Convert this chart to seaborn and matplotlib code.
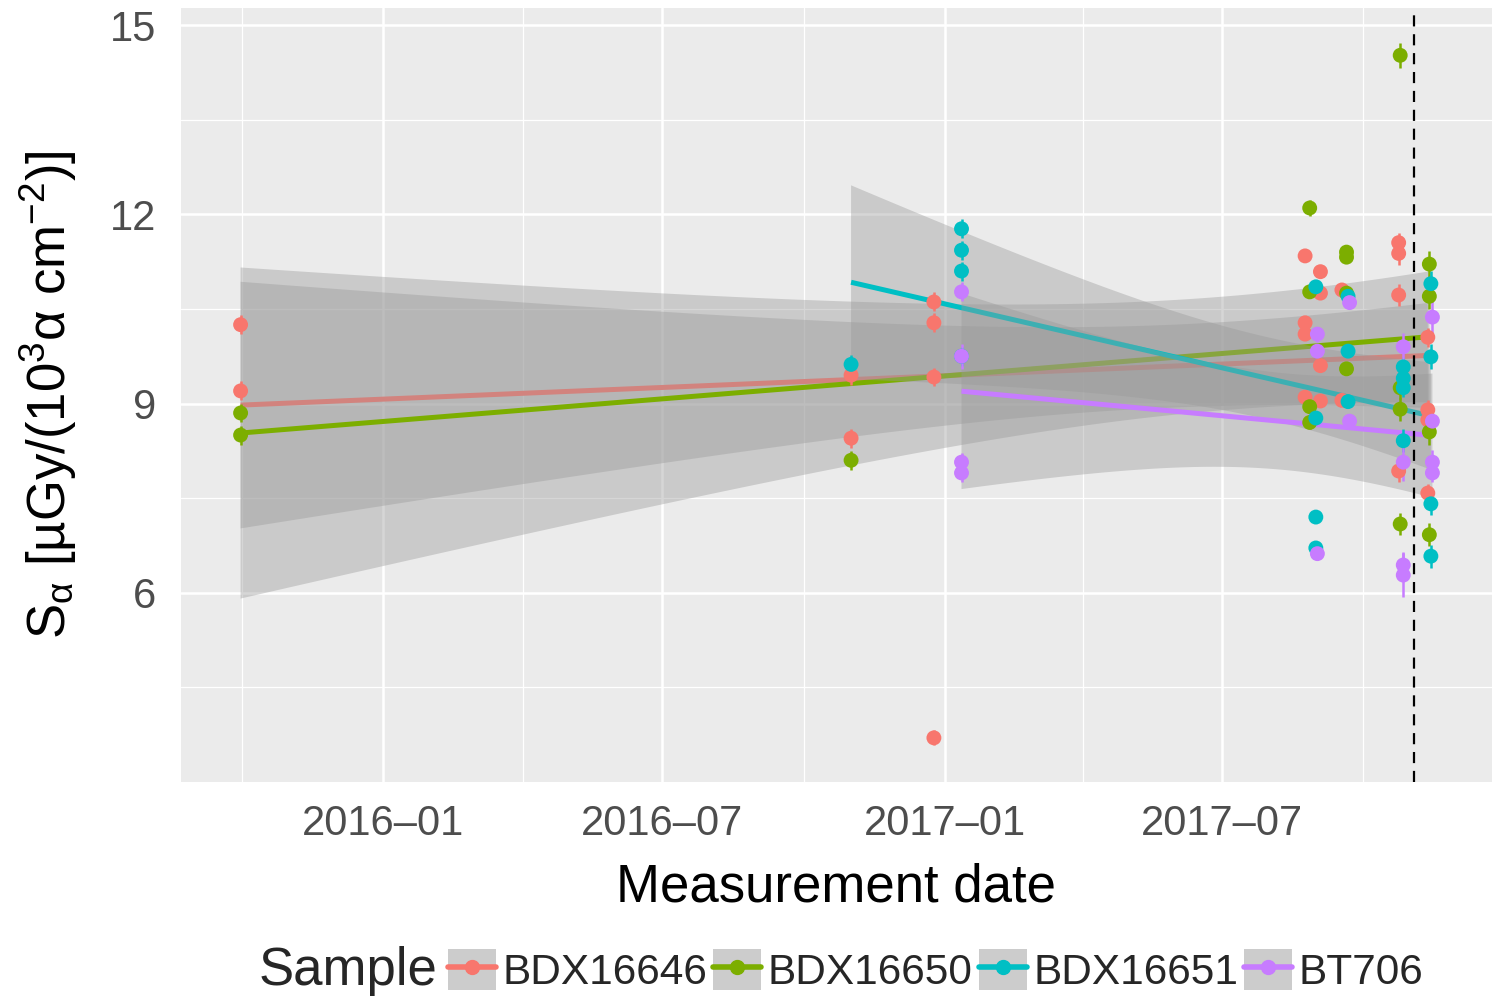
import numpy as np
import pandas as pd
import matplotlib
matplotlib.use("Agg")
import matplotlib.pyplot as plt
import matplotlib.dates as mdates
from matplotlib.lines import Line2D
from matplotlib.patches import Patch
from matplotlib.ticker import FixedLocator
import seaborn as sns

# ---------------- data ----------------
samples = ["BDX16646", "BDX16650", "BDX16651", "BT706"]
colors = ["#F8766D", "#7CAE00", "#00BFC4", "#C77CFF"]

bdx16646_dates = (["2015-09-30"] * 2 + ["2016-11-01"] * 2 + ["2016-12-25"] * 4 +
                  ["2017-08-24"] * 4 + ["2017-09-03"] * 4 + ["2017-09-17"] * 2 +
                  ["2017-10-24"] * 4 + ["2017-11-12"] * 4)
bdx16646_vals = [10.25, 9.20, 9.45, 8.45, 10.61, 10.28, 9.42, 3.70,
                 11.34, 10.28, 10.10, 9.10, 11.09, 10.75, 9.60, 9.04,
                 10.80, 9.05, 11.55, 11.38, 10.72, 7.93, 10.05, 8.90, 8.74, 7.58]
bdx16646_errs = [0.15, 0.15, 0.15, 0.15, 0.15, 0.15, 0.15, 0.12,
                 0.08, 0.08, 0.08, 0.08, 0.08, 0.08, 0.08, 0.08,
                 0.08, 0.08, 0.15, 0.18, 0.18, 0.18, 0.15, 0.15, 0.15, 0.15]

bdx16650_dates = (["2015-09-30"] * 2 + ["2016-11-01"] + ["2017-08-27"] * 4 +
                  ["2017-09-20"] * 4 + ["2017-10-25"] * 4 + ["2017-11-13"] * 4)
bdx16650_vals = [8.85, 8.50, 8.10, 12.10, 10.77, 8.95, 8.70,
                 11.40, 11.32, 10.75, 9.55, 14.52, 9.25, 8.91, 7.09,
                 11.21, 10.70, 8.55, 6.92]
bdx16650_errs = [0.15, 0.15, 0.15, 0.12, 0.10, 0.10, 0.10,
                 0.10, 0.10, 0.10, 0.10, 0.20, 0.18, 0.18, 0.18,
                 0.20, 0.20, 0.20, 0.18]

bdx16651_dates = (["2016-11-01"] + ["2017-01-12"] * 4 + ["2017-08-31"] * 4 +
                  ["2017-09-21"] * 3 + ["2017-10-27"] * 4 + ["2017-11-14"] * 4)
bdx16651_vals = [9.62, 11.77, 11.43, 11.10, 9.75, 10.85, 8.77, 7.20, 6.71,
                 10.70, 9.83, 9.03, 9.58, 9.40, 9.25, 8.41,
                 10.90, 9.74, 7.41, 6.58]
bdx16651_errs = [0.15, 0.15, 0.15, 0.15, 0.15, 0.08, 0.08, 0.08, 0.08,
                 0.08, 0.08, 0.08, 0.15, 0.15, 0.15, 0.18,
                 0.20, 0.20, 0.18, 0.18]

bt706_dates = (["2017-01-12"] * 4 + ["2017-09-01"] * 3 + ["2017-09-22"] * 2 +
               ["2017-10-27"] * 4 + ["2017-11-15"] * 4)
bt706_vals = [10.77, 9.75, 8.07, 7.90, 10.10, 9.83, 6.62, 10.60, 8.72,
              9.90, 8.07, 6.44, 6.28, 10.37, 8.72, 8.07, 7.90]
bt706_errs = [0.15, 0.20, 0.15, 0.15, 0.12, 0.10, 0.10, 0.08, 0.08,
              0.22, 0.30, 0.20, 0.35, 0.25, 0.15, 0.20, 0.15]

cutoff_date = "2017-11-03"

frames = []
for s, d, v, e in zip(samples,
                      [bdx16646_dates, bdx16650_dates, bdx16651_dates, bt706_dates],
                      [bdx16646_vals, bdx16650_vals, bdx16651_vals, bt706_vals],
                      [bdx16646_errs, bdx16650_errs, bdx16651_errs, bt706_errs]):
    frames.append(pd.DataFrame({"sample": s, "date": pd.to_datetime(d),
                                "value": v, "err": e}))
df = pd.concat(frames, ignore_index=True)
df["x"] = mdates.date2num(df["date"])


def t975(nu):
    z = 1.959964
    return (z + (z ** 3 + z) / (4 * nu)
            + (5 * z ** 5 + 16 * z ** 3 + 3 * z) / (96 * nu ** 2)
            + (3 * z ** 7 + 19 * z ** 5 + 17 * z ** 3 - 15 * z) / (384 * nu ** 3))


def lm_band(x, y, grid):
    n = len(x)
    b1, b0 = np.polyfit(x, y, 1)
    resid = y - (b0 + b1 * x)
    s = np.sqrt(np.sum(resid ** 2) / (n - 2))
    xm = x.mean()
    sxx = np.sum((x - xm) ** 2)
    se = s * np.sqrt(1.0 / n + (grid - xm) ** 2 / sxx)
    fit = b0 + b1 * grid
    t = t975(n - 2)
    return fit - t * se, fit + t * se


# ---------------- style ----------------
sns.set_theme(style="white")
plt.rcParams["font.family"] = ["Liberation Sans", "DejaVu Sans"]
plt.rcParams["mathtext.fontset"] = "custom"
plt.rcParams["mathtext.rm"] = "Liberation Sans"
plt.rcParams["mathtext.it"] = "Liberation Sans:italic"
plt.rcParams["mathtext.bf"] = "Liberation Sans:bold"

W, H = 1492, 999
fig = plt.figure(figsize=(W / 100, H / 100), dpi=100)
ax = fig.add_axes([181 / W, 1 - 782 / H, (W - 181) / W, (782 - 8) / H])
ax.set_facecolor("#EBEBEB")
ax.set_axisbelow(True)

for i, (s, c) in enumerate(zip(samples, colors)):
    sub = df[df["sample"] == s]
    xv = sub["x"].to_numpy()
    yv = sub["value"].to_numpy()
    grid = np.linspace(xv.min(), xv.max(), 100)
    lo, hi = lm_band(xv, yv, grid)
    ax.fill_between(grid, lo, hi, facecolor="#999999", edgecolor="none",
                    alpha=0.4, zorder=1 + 2 * i)
    sns.regplot(data=sub, x="x", y="value", ax=ax, scatter=False, ci=None,
                color=c, truncate=True,
                line_kws=dict(lw=3.6, solid_capstyle="butt"))
    ax.lines[-1].set_zorder(2 + 2 * i)

for s, c in zip(samples, colors):
    sub = df[df["sample"] == s]
    ax.errorbar(sub["x"], sub["value"], yerr=sub["err"], fmt="none",
                ecolor=c, elinewidth=1.8, capsize=0, zorder=20)

sns.scatterplot(data=df, x="x", y="value", hue="sample", hue_order=samples,
                palette=colors, s=115, edgecolor="none", linewidth=0,
                legend=False, ax=ax, zorder=21)

ax.axvline(mdates.date2num(pd.Timestamp(cutoff_date)), color="black",
           ls=(0, (5, 3.5)), lw=1.6, zorder=22)

xmin, xmax = df["x"].min(), df["x"].max()
pad = 0.05 * (xmax - xmin)
ax.set_xlim(xmin - pad, xmax + pad)
ax.set_ylim(3.0, 15.27)

ax.xaxis.set_major_locator(mdates.MonthLocator(bymonth=[1, 7]))
ax.xaxis.set_minor_locator(mdates.MonthLocator(bymonth=[4, 10]))
ax.xaxis.set_major_formatter(mdates.DateFormatter("%Y\u2013%m"))
ax.yaxis.set_major_locator(FixedLocator([6, 9, 12, 15]))
ax.yaxis.set_minor_locator(FixedLocator([4.5, 7.5, 10.5, 13.5]))

ax.grid(which="major", color="white", lw=1.8)
ax.grid(which="minor", color="white", lw=0.9)
for sp in ax.spines.values():
    sp.set_visible(False)
ax.tick_params(which="major", length=4, width=1.2, color="#333333",
               labelsize=30, labelcolor="#4D4D4D")
ax.tick_params(which="minor", length=0)
ax.tick_params(axis="x", which="major", pad=12)
ax.tick_params(axis="y", which="major", pad=14)

ax.set_xlabel("Measurement date", fontsize=38, color="black", labelpad=13)
ax.set_ylabel(r"S$_{\mathrm{α}}$ [µGy/(10$^{\mathrm{3}}$α cm$^{\mathrm{-2}}$)]",
              fontsize=38, color="black", labelpad=22)

handles = [(Patch(facecolor="#CCCCCC", edgecolor="none"),
            Line2D([], [], color=c, lw=4, marker="o", markersize=10))
           for c in colors]
fig.text(259 / W, 1 - 985 / H, "Sample", fontsize=38, va="baseline", ha="left")
fig.legend(handles, samples, loc="center left",
           bbox_to_anchor=(448 / W, 1 - 971 / H), ncol=4, frameon=False,
           fontsize=30.5, handlelength=1.13, handleheight=1.13,
           handletextpad=0.15, columnspacing=0.15, borderpad=0,
           borderaxespad=0)

fig.savefig("out.png", dpi=100)
